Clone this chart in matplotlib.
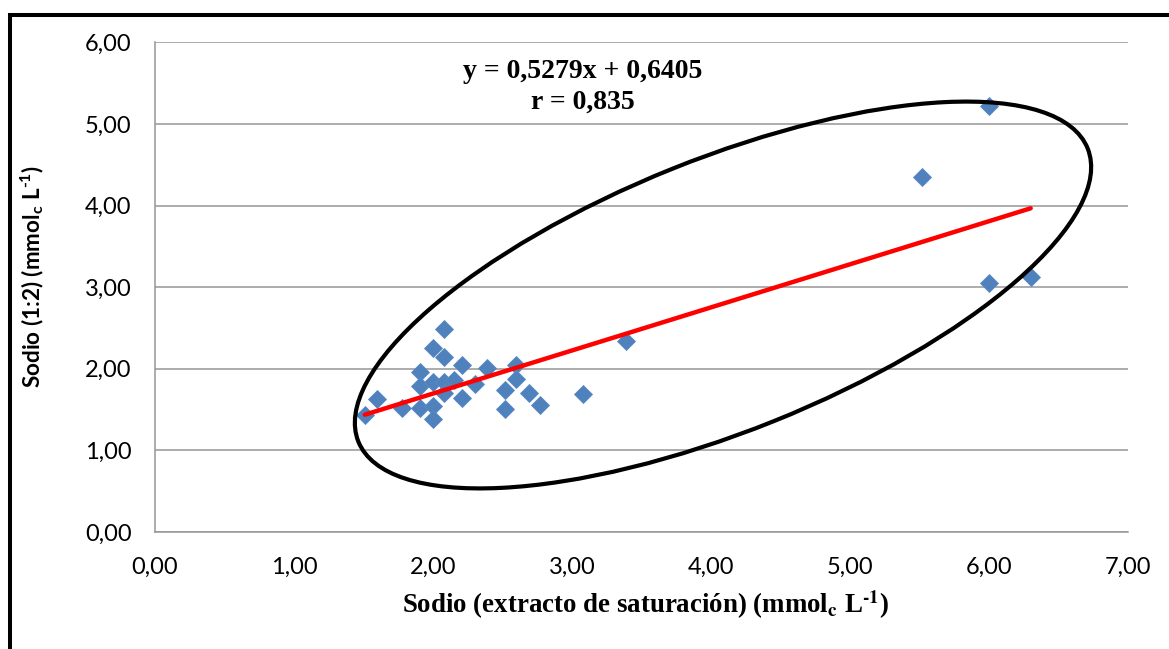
import matplotlib
matplotlib.use("Agg")
import matplotlib.pyplot as plt
from matplotlib.patches import Ellipse, Rectangle
from matplotlib.ticker import FuncFormatter, MultipleLocator
import numpy as np

# Data: Sodio (extracto de saturación) vs Sodio (1:2)
na_extracto = [1.51, 1.60, 1.78, 1.91, 1.91, 1.91, 2.00, 2.08, 2.08, 2.00,
               2.08, 2.00, 2.00, 2.08, 2.21, 2.21, 2.30, 2.39, 2.52, 2.52,
               2.60, 2.60, 2.69, 2.77, 3.08, 3.39, 2.15,
               5.52, 6.00, 6.00, 6.30]
na_12 = [1.43, 1.63, 1.52, 1.96, 1.79, 1.52, 2.26, 2.49, 2.14, 1.84,
         1.84, 1.54, 1.39, 1.70, 2.05, 1.64, 1.81, 2.01, 1.74, 1.51,
         2.05, 1.88, 1.70, 1.56, 1.69, 2.34, 1.86,
         4.35, 5.22, 3.05, 3.13]
slope = 0.5279
intercept = 0.6405
eq_text = "y = 0,5279x + 0,6405"
r_text = "r = 0,835"
HY = "\u2010"
xlabel = r"Sodio (extracto de saturación) (mmol$_\mathbf{c}$ L$^\mathbf{" + HY + "1}$)"
ylabel = r"Sodio (1:2) (mmol$_\mathbf{c}$ L$^\mathbf{" + HY + "1}$)"

plt.rcParams['mathtext.fontset'] = 'custom'
plt.rcParams['mathtext.rm'] = 'Lato:bold'
plt.rcParams['mathtext.bf'] = 'Lato:bold'

W, H = 1169, 649
fig = plt.figure(figsize=(W / 100, H / 100), dpi=100)
ax = fig.add_axes([155 / W, (H - 532) / H, (1128 - 155) / W, (532 - 42.3) / H])

ax.set_xlim(0, 7)
ax.set_ylim(0, 6)
ax.xaxis.set_major_locator(MultipleLocator(1))
ax.yaxis.set_major_locator(MultipleLocator(1))
fmt = FuncFormatter(lambda v, p: f"{v:.2f}".replace(".", ","))
ax.xaxis.set_major_formatter(fmt)
ax.yaxis.set_major_formatter(fmt)
ax.grid(axis='y', color='#969696', lw=1.1)
ax.set_axisbelow(True)
for s in ['top', 'right']:
    ax.spines[s].set_visible(False)
for s in ['left', 'bottom']:
    ax.spines[s].set_color('#969696')
    ax.spines[s].set_linewidth(1.1)
ax.tick_params(length=0, labelsize=17)
ax.tick_params(axis='x', pad=18)
ax.tick_params(axis='y', pad=17)
for lab in ax.get_xticklabels() + ax.get_yticklabels():
    lab.set_fontfamily('Lato')

ax.plot(na_extracto, na_12, 'D', color='#4F81BD', markersize=9.6,
        markeredgecolor='#5a8ac6', markeredgewidth=0.6, zorder=3)

xs = np.array([min(na_extracto), max(na_extracto)])
ax.plot(xs, slope * xs + intercept, color='#FF0000', lw=3.2,
        solid_capstyle='round', zorder=4)

# annotation ellipse (in figure pixel space, via inches)
ell = Ellipse((7.23, (H - 295) / 100), width=7.86, height=2.72, angle=21.9,
              transform=fig.dpi_scale_trans, fill=False, edgecolor='black',
              lw=3.0, zorder=5)
fig.add_artist(ell)

fig.text(583 / W, 1 - 72 / H, eq_text, ha='center', va='center',
         family='Liberation Serif', weight='bold', fontsize=20)
fig.text(583 / W, 1 - 102 / H, r_text, ha='center', va='center',
         family='Liberation Serif', weight='bold', fontsize=20)

fig.text(646 / W, 1 - 605 / H, xlabel, ha='center', va='center',
         family='Liberation Serif', weight='bold', fontsize=19.4,
         math_fontfamily='stix')
fig.text(32 / W, 1 - 277 / H, ylabel, ha='center', va='center',
         rotation=90, family='Lato', weight='bold', fontsize=16.2)

# outer frame
frame = Rectangle((10 / W, -0.2), 1.3, 1.2 - 14.5 / H, transform=fig.transFigure,
                  fill=False, edgecolor='black', lw=2.9, clip_on=False)
fig.add_artist(frame)

fig.savefig('out.png', dpi=100)
